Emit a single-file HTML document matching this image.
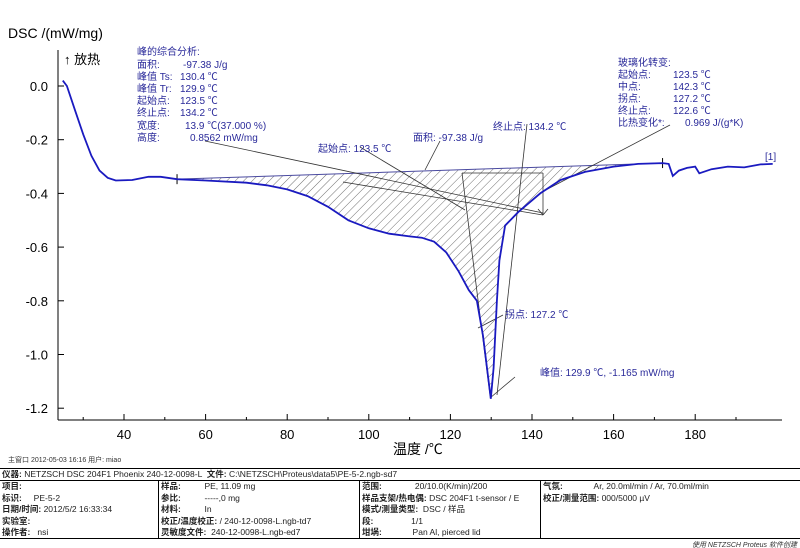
<!DOCTYPE html>
<html><head><meta charset="utf-8"><style>
body{margin:0;background:#fff;width:800px;height:548px;overflow:hidden;font-family:"Liberation Sans","Noto Sans CJK SC",sans-serif}
svg{position:absolute;left:0;top:0}
.tbl{position:absolute;left:0;top:468px;width:800px;color:#222}
.tbl td{font-size:8.5px;line-height:11.4px;white-space:nowrap}
</style></head><body>
<svg width="800" height="548">
<defs><pattern id="hatch" width="6" height="6" patternUnits="userSpaceOnUse" patternTransform="rotate(45)"><line x1="0" y1="0" x2="0" y2="6" stroke="#333" stroke-width="0.7"/></pattern></defs>
<g id="axes"></g>
<path id="area" fill="url(#hatch)" stroke="none"/>
<line id="baseline" stroke="#4a4aa0" stroke-width="1"/>
<g id="anno" stroke="#333" stroke-width="0.8" fill="none">
<line x1="205" y1="141" x2="543" y2="213"/>
<line x1="360" y1="147" x2="465" y2="210"/>
<line x1="440" y1="141" x2="425" y2="170"/>
<line x1="527" y1="124" x2="497" y2="395"/>
<line x1="670" y1="125" x2="540" y2="193"/>
<line x1="462" y1="173" x2="543" y2="173"/>
<line x1="462" y1="173" x2="490" y2="395"/>
<line x1="543" y1="173" x2="543" y2="215"/>
<line x1="538" y1="209" x2="543" y2="215"/><line x1="548" y1="209" x2="543" y2="215"/>
<line x1="343" y1="182" x2="543" y2="215"/>
<line x1="503" y1="315" x2="478" y2="328"/>
<line x1="515" y1="377" x2="490" y2="398"/>
</g>
<path id="curve" fill="none" stroke="#1a1ac0" stroke-width="1.8"/>
<g font-size="10" fill="#2a2a9a">
<text x="137" y="55">峰的综合分析:</text>
<text x="137" y="68">面积:</text><text x="183" y="68">-97.38 J/g</text>
<text x="137" y="80">峰值 Ts:</text><text x="180" y="80">130.4 ℃</text>
<text x="137" y="92">峰值 Tr:</text><text x="180" y="92">129.9 ℃</text>
<text x="137" y="104">起始点:</text><text x="180" y="104">123.5 ℃</text>
<text x="137" y="116">终止点:</text><text x="180" y="116">134.2 ℃</text>
<text x="137" y="129">宽度:</text><text x="185" y="129">13.9 ℃(37.000 %)</text>
<text x="137" y="141">高度:</text><text x="190" y="141">0.8562 mW/mg</text>
<text x="318" y="152">起始点: 123.5 ℃</text>
<text x="413" y="141">面积: -97.38 J/g</text>
<text x="493" y="130">终止点: 134.2 ℃</text>
<text x="505" y="318">拐点: 127.2 ℃</text>
<text x="540" y="376">峰值: 129.9 ℃, -1.165 mW/mg</text>
</g>
<g font-size="10" fill="#2a2a9a">
<text x="618" y="66">玻璃化转变:</text>
<text x="618" y="78">起始点:</text><text x="673" y="78">123.5 ℃</text>
<text x="618" y="90">中点:</text><text x="673" y="90">142.3 ℃</text>
<text x="618" y="102">拐点:</text><text x="673" y="102">127.2 ℃</text>
<text x="618" y="114">终止点:</text><text x="673" y="114">122.6 ℃</text>
<text x="618" y="126">比热变化*:</text><text x="685" y="126">0.969 J/(g*K)</text>
<text x="765" y="160">[1]</text>
</g>
<text x="8" y="38" font-size="14" fill="#000">DSC /(mW/mg)</text>
<text x="64" y="64" font-size="13" fill="#000">↑ 放热</text>
<text x="393" y="454" font-size="14" fill="#000">温度 /℃</text>
<text x="8" y="462" font-size="7" fill="#333">主窗口  2012-05-03 16:16  用户: miao</text>
<text x="797" y="547" font-size="7" font-style="italic" fill="#333" text-anchor="end">使用 NETZSCH Proteus 软件创建</text>
</svg>
<div class="tbl">
<table style="border-collapse:collapse;width:800px" cellspacing="0">
<tr><td colspan="4" style="border-top:1px solid #000;border-bottom:1px solid #000;padding:0 2px"><b>仪器:</b> NETZSCH DSC 204F1 Phoenix 240-12-0098-L &nbsp;<b>文件:</b> C:\NETZSCH\Proteus\data5\PE-5-2.ngb-sd7</td></tr>
<tr>
<td style="width:154px;vertical-align:top;border-right:1px solid #000;border-bottom:1px solid #000;padding:0 2px"><b>项目:</b><br><b>标识:</b> &nbsp;&nbsp;&nbsp;&nbsp;PE-5-2<br><b>日期/时间:</b> 2012/5/2 16:33:34<br><b>实验室:</b><br><b>操作者:</b> &nbsp;&nbsp;nsi</td>
<td style="width:196px;vertical-align:top;border-right:1px solid #000;border-bottom:1px solid #000;padding:0 2px"><b>样品:</b> &nbsp;&nbsp;&nbsp;&nbsp;&nbsp;&nbsp;&nbsp;&nbsp;&nbsp;PE, 11.09 mg<br><b>参比:</b> &nbsp;&nbsp;&nbsp;&nbsp;&nbsp;&nbsp;&nbsp;&nbsp;&nbsp;-----,0 mg<br><b>材料:</b> &nbsp;&nbsp;&nbsp;&nbsp;&nbsp;&nbsp;&nbsp;&nbsp;&nbsp;In<br><b>校正/温度校正:</b> / 240-12-0098-L.ngb-td7<br><b>灵敏度文件:</b> &nbsp;240-12-0098-L.ngb-ed7</td>
<td style="width:176px;vertical-align:top;border-right:1px solid #000;border-bottom:1px solid #000;padding:0 2px"><b>范围:</b> &nbsp;&nbsp;&nbsp;&nbsp;&nbsp;&nbsp;&nbsp;&nbsp;&nbsp;&nbsp;&nbsp;&nbsp;&nbsp;20/10.0(K/min)/200<br><b>样品支架/热电偶:</b> DSC 204F1 t-sensor / E<br><b>模式/测量类型:</b> &nbsp;DSC / 样品<br><b>段:</b> &nbsp;&nbsp;&nbsp;&nbsp;&nbsp;&nbsp;&nbsp;&nbsp;&nbsp;&nbsp;&nbsp;&nbsp;&nbsp;&nbsp;&nbsp;1/1<br><b>坩埚:</b> &nbsp;&nbsp;&nbsp;&nbsp;&nbsp;&nbsp;&nbsp;&nbsp;&nbsp;&nbsp;&nbsp;&nbsp;Pan Al, pierced lid</td>
<td style="vertical-align:top;border-bottom:1px solid #000;padding:0 2px"><b>气氛:</b> &nbsp;&nbsp;&nbsp;&nbsp;&nbsp;&nbsp;&nbsp;&nbsp;&nbsp;&nbsp;&nbsp;&nbsp;Ar, 20.0ml/min / Ar, 70.0ml/min<br><b>校正/测量范围:</b> 000/5000 µV<br>&nbsp;<br>&nbsp;<br>&nbsp;</td>
</tr></table></div>
<script>
const temps=[25,26,28,30,32,34,36,38,42,46,49,53,60,70,75,80,85,90,95,100,105,110,113,116,119,122,124.5,126.5,128,129.9,130.6,131.4,132,133.4,136.6,142,147,153,160,166,172,173.5,174.5,176,178,180,181,184,188,192,196,199];
const dscValues=[0.02,0.0,-0.09,-0.18,-0.26,-0.315,-0.342,-0.352,-0.35,-0.338,-0.338,-0.347,-0.352,-0.36,-0.37,-0.385,-0.41,-0.45,-0.5,-0.53,-0.55,-0.56,-0.565,-0.58,-0.62,-0.69,-0.76,-0.8,-0.93,-1.165,-1.05,-0.8,-0.65,-0.52,-0.47,-0.4,-0.35,-0.32,-0.3,-0.29,-0.287,-0.29,-0.335,-0.315,-0.305,-0.3,-0.325,-0.31,-0.3,-0.303,-0.292,-0.29];
const xTicks=[40,60,80,100,120,140,160,180];
const yTicks=[0.0,-0.2,-0.4,-0.6,-0.8,-1.0,-1.2];
const baseStart=[53,-0.347], baseEnd=[172,-0.287];
const X=t=>124+(t-40)*4.08, Y=v=>86-v*268.5;
const ns="http://www.w3.org/2000/svg";
const ax=document.getElementById('axes');
function mk(tag,attrs,parent){const e=document.createElementNS(ns,tag);for(const k in attrs)e.setAttribute(k,attrs[k]);parent.appendChild(e);return e;}
let l=mk('line',{x1:58,y1:50,x2:58,y2:420,stroke:'#000','stroke-width':1},ax);


l=mk('line',{x1:58,y1:420,x2:782,y2:420,stroke:'#000','stroke-width':1},ax);


yTicks.forEach(v=>{mk('line',{x1:58,y1:Y(v),x2:64,y2:Y(v),stroke:'#000'},ax);
 const t=mk('text',{x:48,y:Y(v)+5,'font-size':13,'text-anchor':'end',fill:'#000'},ax);t.textContent=v.toFixed(1);
 
 });
xTicks.forEach(v=>{mk('line',{x1:X(v),y1:420,x2:X(v),y2:414,stroke:'#000'},ax);
 const t=mk('text',{x:X(v),y:439,'font-size':13,'text-anchor':'middle',fill:'#000'},ax);t.textContent=v;
 
 });
[30,50,70,90,110,130,150,170,190].forEach(v=>mk('line',{x1:X(v),y1:420,x2:X(v),y2:417,stroke:'#000'},ax));
let d=temps.map((t,i)=>(i?'L':'M')+X(t).toFixed(1)+','+Y(dscValues[i]).toFixed(1)).join(' ');
document.getElementById('curve').setAttribute('d',d);
let pts=[];temps.forEach((t,i)=>{if(t>=baseStart[0]&&t<=baseEnd[0])pts.push(X(t).toFixed(1)+','+Y(dscValues[i]).toFixed(1));});
document.getElementById('area').setAttribute('d','M'+pts.join(' L')+' L'+X(baseStart[0])+','+Y(baseStart[1])+'Z');
const b=document.getElementById('baseline');
b.setAttribute('x1',X(baseStart[0]));b.setAttribute('y1',Y(baseStart[1]));b.setAttribute('x2',X(baseEnd[0]));b.setAttribute('y2',Y(baseEnd[1]));
[[baseStart[0],baseStart[1]],[baseEnd[0],baseEnd[1]]].forEach(p=>mk('line',{x1:X(p[0]),y1:Y(p[1])-5,x2:X(p[0]),y2:Y(p[1])+5,stroke:'#000'},ax));
</script>
</body></html>
